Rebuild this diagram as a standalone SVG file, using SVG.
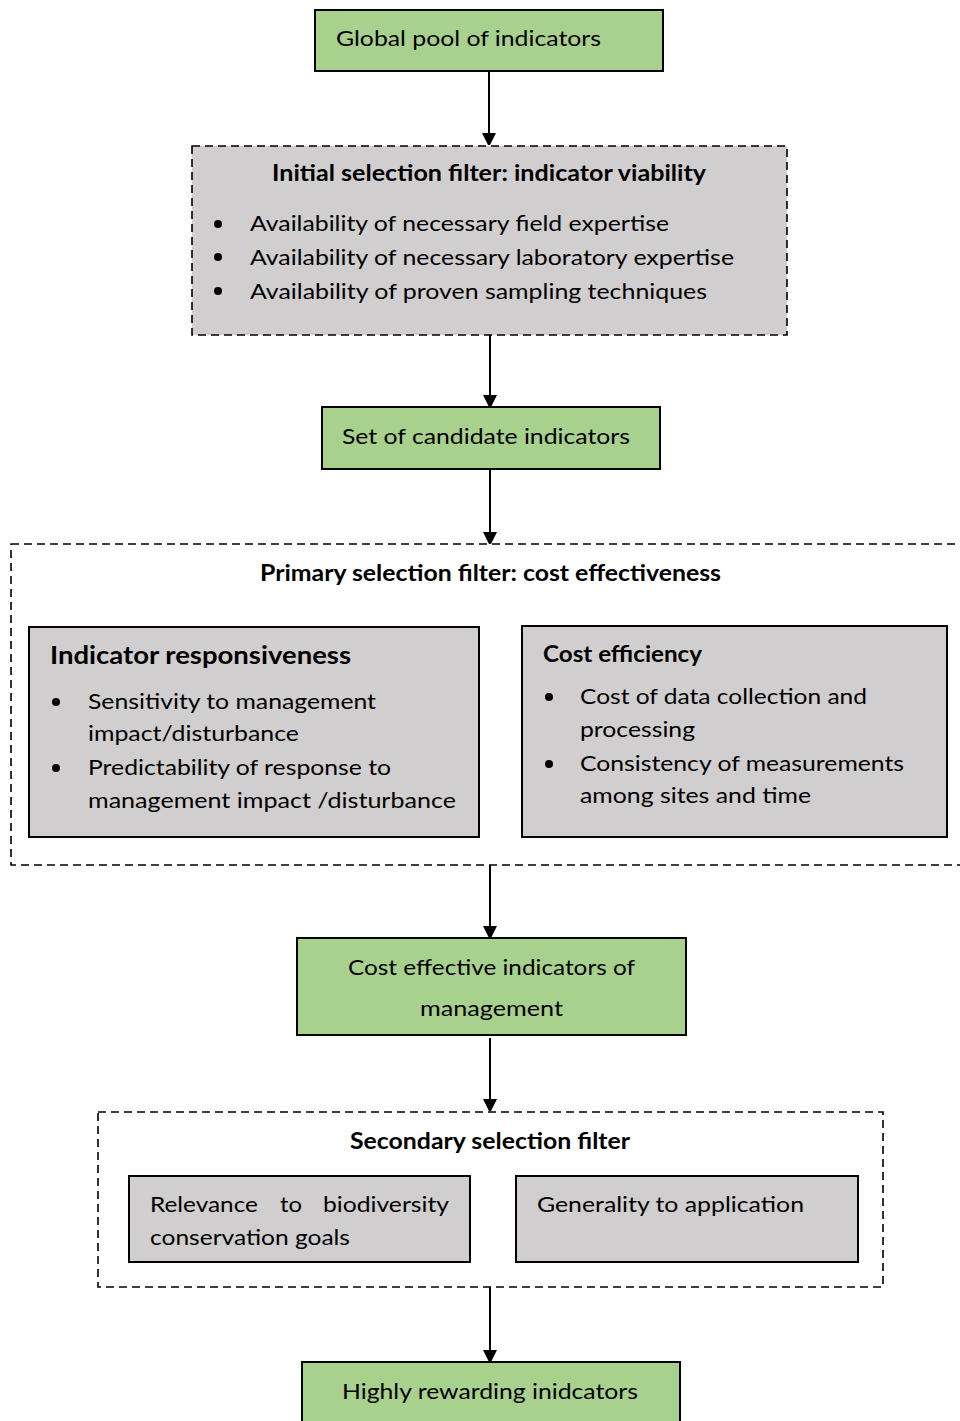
<svg xmlns="http://www.w3.org/2000/svg" width="960" height="1421" viewBox="0 0 960 1421">
<style>
.green{fill:#A9D18E;stroke:#000;stroke-width:2}
.grey{fill:#D0CECE;stroke:#000;stroke-width:2}
.dash{stroke:#000;stroke-width:1.6;stroke-dasharray:8 5}
text{font-family:Lato,"Liberation Sans",sans-serif;font-size:22px;fill:#000}
.b{font-weight:bold}
.conn{stroke:#000;stroke-width:2;fill:none}
</style>
<defs>
<marker id="ah" markerWidth="12" markerHeight="14" refX="12" refY="7" orient="auto" markerUnits="userSpaceOnUse">
<path d="M0,0 L14,7 L0,14 Z" fill="#000"/>
</marker>
<circle id="dot" r="4" fill="#000"/>
</defs>
<rect width="960" height="1421" fill="#fff"/>

<g id="connectors">
<line class="conn" x1="489" y1="71" x2="489" y2="145" marker-end="url(#ah)"/>
<line class="conn" x1="490" y1="335" x2="490" y2="407" marker-end="url(#ah)"/>
<line class="conn" x1="490" y1="469" x2="490" y2="544" marker-end="url(#ah)"/>
<line class="conn" x1="490" y1="865" x2="490" y2="938" marker-end="url(#ah)"/>
<line class="conn" x1="490" y1="1038" x2="490" y2="1111" marker-end="url(#ah)"/>
<line class="conn" x1="490" y1="1287" x2="490" y2="1362" marker-end="url(#ah)"/>
</g>

<g id="global-pool">
<rect class="green" x="315" y="10" width="348" height="61"/>
<text x="336" y="46" textLength="265" lengthAdjust="spacingAndGlyphs">Global pool of indicators</text>
</g>

<g id="initial-filter">
<rect x="192" y="146" width="595" height="189" fill="#D0CECE" class="dash"/>
<text class="b" x="272" y="181" textLength="434" lengthAdjust="spacingAndGlyphs">Initial selection filter: indicator viability</text>
<use href="#dot" x="218" y="224"/>
<use href="#dot" x="218" y="257"/>
<use href="#dot" x="218" y="291"/>
<text x="250" y="231" textLength="419" lengthAdjust="spacingAndGlyphs">Availability of necessary field expertise</text>
<text x="250" y="265" textLength="484" lengthAdjust="spacingAndGlyphs">Availability of necessary laboratory expertise</text>
<text x="250" y="299" textLength="457" lengthAdjust="spacingAndGlyphs">Availability of proven sampling techniques</text>
</g>

<g id="candidate-set">
<rect class="green" x="322" y="407" width="338" height="62"/>
<text x="342" y="444" textLength="288" lengthAdjust="spacingAndGlyphs">Set of candidate indicators</text>
</g>

<g id="primary-filter">
<rect x="11" y="544" width="960" height="321" fill="none" class="dash"/>
<text class="b" x="260" y="581" textLength="461" lengthAdjust="spacingAndGlyphs">Primary selection filter: cost effectiveness</text>
</g>

<g id="indicator-responsiveness">
<rect class="grey" x="29" y="627" width="450" height="210"/>
<text class="b" x="50" y="664" style="font-size:25px" textLength="301" lengthAdjust="spacingAndGlyphs">Indicator responsiveness</text>
<use href="#dot" x="56" y="702"/>
<use href="#dot" x="56" y="768"/>
<text x="88" y="709" textLength="288" lengthAdjust="spacingAndGlyphs">Sensitivity to management</text>
<text x="88" y="741" textLength="211" lengthAdjust="spacingAndGlyphs">impact/disturbance</text>
<text x="88" y="775" textLength="303" lengthAdjust="spacingAndGlyphs">Predictability of response to</text>
<text x="88" y="808" textLength="368" lengthAdjust="spacingAndGlyphs">management impact /disturbance</text>
</g>

<g id="cost-efficiency">
<rect class="grey" x="522" y="626" width="425" height="211"/>
<text class="b" x="543" y="662" textLength="159" lengthAdjust="spacingAndGlyphs">Cost efficiency</text>
<use href="#dot" x="549" y="697"/>
<use href="#dot" x="549" y="764"/>
<text x="580" y="704" textLength="287" lengthAdjust="spacingAndGlyphs">Cost of data collection and</text>
<text x="580" y="737" textLength="115" lengthAdjust="spacingAndGlyphs">processing</text>
<text x="580" y="771" textLength="324" lengthAdjust="spacingAndGlyphs">Consistency of measurements</text>
<text x="580" y="803" textLength="231" lengthAdjust="spacingAndGlyphs">among sites and time</text>
</g>

<g id="cost-effective">
<rect class="green" x="297" y="938" width="389" height="97"/>
<text x="348" y="975" textLength="287" lengthAdjust="spacingAndGlyphs">Cost effective indicators of</text>
<text x="420" y="1016" textLength="143" lengthAdjust="spacingAndGlyphs">management</text>
</g>

<g id="secondary-filter">
<rect x="98" y="1112" width="785" height="175" fill="none" class="dash"/>
<text class="b" x="350" y="1149" textLength="280" lengthAdjust="spacingAndGlyphs">Secondary selection filter</text>
</g>

<g id="relevance">
<rect class="grey" x="129" y="1176" width="341" height="86"/>
<text x="150" y="1212"><tspan x="150" textLength="108" lengthAdjust="spacingAndGlyphs">Relevance</tspan><tspan x="280" textLength="22" lengthAdjust="spacingAndGlyphs">to</tspan><tspan x="323" textLength="126" lengthAdjust="spacingAndGlyphs">biodiversity</tspan></text>
<text x="150" y="1245" textLength="200" lengthAdjust="spacingAndGlyphs">conservation goals</text>
</g>

<g id="generality">
<rect class="grey" x="516" y="1176" width="342" height="86"/>
<text x="537" y="1212" textLength="267" lengthAdjust="spacingAndGlyphs">Generality to application</text>
</g>

<g id="highly-rewarding">
<rect class="green" x="302" y="1362" width="378" height="70"/>
<text x="342" y="1399" textLength="296" lengthAdjust="spacingAndGlyphs">Highly rewarding inidcators</text>
</g>
</svg>
